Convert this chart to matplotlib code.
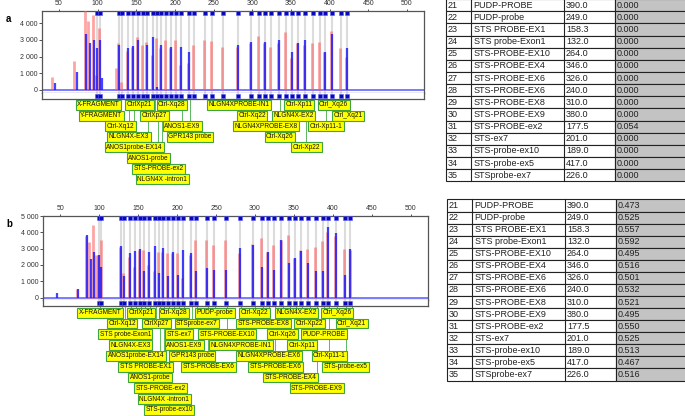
import matplotlib
matplotlib.use('Agg')
import matplotlib.pyplot as plt
from matplotlib.transforms import blended_transform_factory
from matplotlib.patches import Rectangle
from matplotlib.ticker import FuncFormatter

plt.rcParams['font.family'] = ['Liberation Sans', 'DejaVu Sans']

# ---------------- data ----------------
probe_names = ["X-FRAGMENT", "Y-FRAGMENT", "Ctrl-Xq12", "STS probe-Exon1", "NLGN4X-EX3",
               "ANOS1probe-EX14", "CtrlXp21", "STS PROBE-EX1", "ANOS1-probe", "CtrlXp27",
               "STS-PROBE-ex2", "NLGN4X -intron1", "STS-probe-ex10", "Ctrl-Xq28", "STS-ex7",
               "ANOS1-EX9", "GPR143 probe", "STSprobe-ex7", "STS-PROBE-EX6a", "PUDP-probe",
               "STS-PROBE-EX10", "NLGN4XPROBE-IN1", "Ctrl-Xq22", "STS-PROBE-EX8", "NLGN4XPROBE-EX6",
               "STS-PROBE-EX6b", "Ctrl-Xq26", "STS-PROBE-EX4", "NLGN4X-EX2", "Ctrl-Xp11",
               "Ctrl-Xp22", "STS-PROBE-EX9", "PUDP-PROBE", "Ctrl-Xp11-1", "Ctrl_Xq26",
               "STS-probe-ex5", "Ctrl_Xq21"]
probe_size = [99.5, 103, 128, 132, 139, 146, 152.5, 158, 164, 172, 177, 182, 188.5, 194.5, 201,
              208, 218, 224, 238.5, 247.5, 262.5, 281, 298, 309, 316.5, 324.5, 334, 344, 351.5,
              358.5, 368.5, 378, 387.5, 394, 403.5, 415, 422.5]

red_a = [900, 3700, 2800, 500, 2350, 2600, 3150, 2700, 2850, 2100, 3100, 2500, 3000, 2500, 3000,
         1500, 1600, 2700, 3000, 2950, 2600, 2600, 2800, 3250, 2800, 2600, 2800, 3450, 1900, 2800,
         2700, 2800, 2900, 2300, 3550, 2500, 2000]
blue_a = [2500, 3000, 2700, 0, 2500, 2650, 3000, 0, 2700, 3150, 150, 2700, 0, 2600, 0,
          2600, 2300, 0, 0, 0, 0, 2700, 2900, 0, 2900, 0, 3000, 0, 2300, 2800,
          3000, 0, 0, 2300, 3350, 0, 2500]
red_b = [2600, 3500, 3100, 1500, 2500, 1900, 2900, 2900, 2000, 1600, 2800, 2800, 2750, 2750, 2750,
         1200, 2600, 3500, 3500, 3200, 3500, 2700, 3300, 3650, 2800, 3250, 3550, 3850, 2400, 2900,
         2950, 3100, 3450, 4000, 3800, 3000, 2900]
blue_b = [2600, 1900, 3150, 1300, 2700, 2850, 3000, 1600, 2800, 3150, 1500, 3050, 1300, 2800, 1400,
          2900, 2750, 1600, 1800, 1700, 1700, 3050, 3250, 1900, 2800, 1700, 3500, 2100, 2400, 2850,
          2100, 1600, 1600, 4300, 3950, 1400, 3000]

# non-probe fragments (QD fragments etc.)
extra_red_a_pos = [41.5, 69.5, 83.5, 88, 93.5, 124]
extra_red_a_h = [760, 1760, 4800, 4150, 4500, 1300]
extra_blue_a_pos = [45, 73, 84.5, 89.5, 95, 105]
extra_blue_a_h = [400, 1100, 3350, 2800, 3000, 700]
extra_red_b_pos = [72, 83.5, 87.5, 92, 96]
extra_red_b_h = [500, 3800, 3400, 4450, 2600]
extra_blue_b_pos = [46, 73, 85, 89, 94]
extra_blue_b_h = [300, 500, 3850, 2350, 2800]

# label annotations: (text, probe, row)
labels_a_text = ["X-FRAGMENT", "CtrlXp21", "Ctrl-Xq28", "NLGN4XPROBE-IN1", "Ctrl-Xp11", "Ctrl_Xq26",
                 "Y-FRAGMENT", "CtrlXp27", "Ctrl-Xq22", "NLGN4X-EX2", "Ctrl_Xq21",
                 "Ctrl-Xq12", "ANOS1-EX9", "NLGN4XPROBE-EX8", "Ctrl-Xp11-1",
                 "NLGN4X-EX3", "GPR143 probe", "Ctrl-Xq26",
                 "ANOS1probe-EX14", "Ctrl-Xp22", "ANOS1-probe", "STS-PROBE-ex2", "NLGN4X -intron1"]
labels_a_probe = ["X-FRAGMENT", "CtrlXp21", "Ctrl-Xq28", "NLGN4XPROBE-IN1", "Ctrl-Xp11", "Ctrl_Xq26",
                  "Y-FRAGMENT", "CtrlXp27", "Ctrl-Xq22", "NLGN4X-EX2", "Ctrl_Xq21",
                  "Ctrl-Xq12", "ANOS1-EX9", "NLGN4XPROBE-EX6", "Ctrl-Xp11-1",
                  "NLGN4X-EX3", "GPR143 probe", "Ctrl-Xq26",
                  "ANOS1probe-EX14", "Ctrl-Xp22", "ANOS1-probe", "STS-PROBE-ex2", "NLGN4X -intron1"]
labels_a_row = [0, 0, 0, 0, 0, 0, 1, 1, 1, 1, 1, 2, 2, 2, 2, 3, 3, 3, 4, 4, 5, 6, 7]

labels_b_text = ["X-FRAGMENT", "CtrlXp21", "Ctrl-Xq28", "PUDP-probe", "Ctrl-Xq22", "NLGN4X-EX2", "Ctrl_Xq26",
                 "Ctrl-Xq12", "CtrlXp27", "STSprobe-ex7", "STS-PROBE-EX8", "Ctrl-Xp22", "Ctrl_Xq21",
                 "STS probe-Exon1", "STS-ex7", "STS-PROBE-EX10", "Ctrl-Xq26", "PUDP-PROBE",
                 "NLGN4X-EX3", "ANOS1-EX9", "NLGN4XPROBE-IN1", "Ctrl-Xp11",
                 "ANOS1probe-EX14", "GPR143 probe", "NLGN4XPROBE-EX6", "Ctrl-Xp11-1",
                 "STS PROBE-EX1", "STS-PROBE-EX6", "STS-PROBE-EX6", "STS-probe-ex5",
                 "ANOS1-probe", "STS-PROBE-EX4", "STS-PROBE-ex2", "STS-PROBE-EX9",
                 "NLGN4X -intron1", "STS-probe-ex10"]
labels_b_probe = ["X-FRAGMENT", "CtrlXp21", "Ctrl-Xq28", "PUDP-probe", "Ctrl-Xq22", "NLGN4X-EX2", "Ctrl_Xq26",
                  "Ctrl-Xq12", "CtrlXp27", "STSprobe-ex7", "STS-PROBE-EX8", "Ctrl-Xp22", "Ctrl_Xq21",
                  "STS probe-Exon1", "STS-ex7", "STS-PROBE-EX10", "Ctrl-Xq26", "PUDP-PROBE",
                  "NLGN4X-EX3", "ANOS1-EX9", "NLGN4XPROBE-IN1", "Ctrl-Xp11",
                  "ANOS1probe-EX14", "GPR143 probe", "NLGN4XPROBE-EX6", "Ctrl-Xp11-1",
                  "STS PROBE-EX1", "STS-PROBE-EX6a", "STS-PROBE-EX6b", "STS-probe-ex5",
                  "ANOS1-probe", "STS-PROBE-EX4", "STS-PROBE-ex2", "STS-PROBE-EX9",
                  "NLGN4X -intron1", "STS-probe-ex10"]
labels_b_row = [0, 0, 0, 0, 0, 0, 0, 1, 1, 1, 1, 1, 1, 2, 2, 2, 2, 2, 3, 3, 3, 3,
                4, 4, 4, 4, 5, 5, 5, 5, 6, 6, 7, 7, 8, 9]

tbl_index = [21, 22, 23, 24, 25, 26, 27, 28, 29, 30, 31, 32, 33, 34, 35]
tbl_names = ["PUDP-PROBE", "PUDP-probe", "STS PROBE-EX1", "STS probe-Exon1", "STS-PROBE-EX10",
             "STS-PROBE-EX4", "STS-PROBE-EX6", "STS-PROBE-EX6", "STS-PROBE-EX8", "STS-PROBE-EX9",
             "STS-PROBE-ex2", "STS-ex7", "STS-probe-ex10", "STS-probe-ex5", "STSprobe-ex7"]
tbl_size = [390.0, 249.0, 158.3, 132.0, 264.0, 346.0, 326.0, 240.0, 310.0, 380.0, 177.5, 201.0,
            189.0, 417.0, 226.0]
ratio_a = [0.000, 0.000, 0.000, 0.000, 0.000, 0.000, 0.000, 0.000, 0.000, 0.000, 0.054, 0.000,
           0.000, 0.000, 0.000]
ratio_b = [0.473, 0.525, 0.557, 0.592, 0.495, 0.516, 0.501, 0.532, 0.521, 0.495, 0.550, 0.525,
           0.513, 0.467, 0.516]

x_ticks = [50, 100, 150, 200, 250, 300, 350, 400, 450, 500]

# ---------------- figure ----------------
W, H = 685, 416
fig = plt.figure(figsize=(W / 100, H / 100), dpi=100)
size_of = dict(zip(probe_names, probe_size))


def fx(px):
    return px / W


def fy(py):
    return 1 - py / H


def panel(left, right, top, base, bottom, strip_bottom, ymax, yticks, red, blue,
          ex_r_pos, ex_r_h, ex_b_pos, ex_b_h, lab_text, lab_probe, lab_row, row0, rowsp, letter):
    ax = fig.add_axes([fx(left), fy(bottom), fx(right) - fx(left), fy(top) - fy(bottom)])
    px_per = (base - top) / ymax
    ymin = -(bottom - base) / px_per
    ax.set_xlim(28, 522)
    ax.set_ylim(ymin, ymax)
    for s in ax.spines.values():
        s.set_color('#555555')
        s.set_linewidth(0.9)
    ax.xaxis.tick_top()
    ax.set_xticks(x_ticks)
    ax.tick_params(axis='x', labelsize=5, length=1.5, colors='#333333', pad=1.5, width=0.6)
    ax.set_yticks(yticks)
    ax.yaxis.set_major_formatter(FuncFormatter(lambda v, p: '{:,}'.format(int(v)).replace(',', ' ')))
    ax.tick_params(axis='y', labelsize=5, length=2, colors='#333333', pad=1.5, width=0.6)
    # bins
    ax.vlines(probe_size, ymin, ymax, color='#dcdcdc', lw=1.5, zorder=1)
    # baseline
    ax.axhline(0, color='#7a7aff', lw=1.4, zorder=2)
    # peaks
    ax.vlines(ex_r_pos, 0, ex_r_h, color='#ff5a5a', alpha=0.55, lw=2.0, zorder=3)
    ax.vlines([p - 1.2 for p in probe_size], 0, red, color='#ff5a5a', alpha=0.55, lw=2.0, zorder=3)
    ax.vlines(ex_b_pos, 0, ex_b_h, color='#1515ff', alpha=0.8, lw=1.6, zorder=4)
    ax.vlines(probe_size, 0, blue, color='#1515ff', alpha=0.8, lw=1.6, zorder=4)
    trb = blended_transform_factory(ax.transData, ax.transAxes)
    ax.plot(probe_size, [1 - 2.2 / (bottom - top)] * len(probe_size), 's', ms=2.4,
            color='#0a0ab4', mec='#5a5aff', mew=0.4, transform=trb, clip_on=False, zorder=5)
    # strip below
    sx = fig.add_axes([fx(left), fy(strip_bottom), fx(right) - fx(left), fy(bottom) - fy(strip_bottom)])
    sx.set_xlim(28, 522)
    sx.set_ylim(0, 1)
    sx.set_xticks([])
    sx.set_yticks([])
    for s in sx.spines.values():
        s.set_color('#555555')
        s.set_linewidth(0.9)
    sx.spines['top'].set_visible(False)
    sx.vlines(probe_size, 0, 1, color='#dcdcdc', lw=1.5)
    sx.plot(probe_size, [0.5] * len(probe_size), 's', ms=2.4, color='#0a0ab4', mec='#5a5aff', mew=0.4)
    # labels
    trf = blended_transform_factory(ax.transData, fig.transFigure)
    for t, pr, r in zip(lab_text, lab_probe, lab_row):
        x = size_of[pr] + 1.5
        yc = row0 + r * rowsp
        ax.plot([x, x], [fy(strip_bottom), fy(yc - 4)], color='#5cb85c', lw=0.7,
                transform=trf, clip_on=False, zorder=6)
    for t, pr, r in zip(lab_text, lab_probe, lab_row):
        x = size_of[pr] + 1.5
        yc = row0 + r * rowsp
        ax.text(x, fy(yc), t, transform=trf, ha='center', va='center', fontsize=4.7,
                color='#111111', clip_on=False, zorder=7,
                bbox=dict(boxstyle='square,pad=0.22', fc='#ffff00', ec='#3fa33f', lw=0.8))
    fig.text(fx(6), fy(top + 8), letter, fontsize=7, fontweight='bold', ha='left', va='center')
    return ax


panel(42, 424, 11, 90, 93, 99, 4730, [0, 1000, 2000, 3000, 4000], red_a, blue_a,
      extra_red_a_pos, extra_red_a_h, extra_blue_a_pos, extra_blue_a_h,
      labels_a_text, labels_a_probe, labels_a_row, 105, 10.6, 'a')
panel(43, 428, 216, 297.5, 300, 306, 5000, [0, 1000, 2000, 3000, 4000, 5000], red_b, blue_b,
      extra_red_b_pos, extra_red_b_h, extra_blue_b_pos, extra_blue_b_h,
      labels_b_text, labels_b_probe, labels_b_row, 312.7, 10.8, 'b')

# ---------------- tables ----------------
ov = fig.add_axes([0, 0, 1, 1], zorder=-1)
ov.set_xlim(0, W)
ov.set_ylim(H, 0)
ov.axis('off')


def table(first_center, rowh, cols, ratios):
    x0, x1, x2, x3 = cols
    for i, (idx, nm, sz, rt) in enumerate(zip(tbl_index, tbl_names, tbl_size, ratios)):
        yt = first_center + i * rowh - rowh / 2
        ov.add_patch(Rectangle((x0, yt), x3 - x0, rowh, fc='white', ec='#222222', lw=0.8))
        ov.add_patch(Rectangle((x3, yt), W + 5 - x3, rowh, fc='#c3c3c3', ec='#222222', lw=0.8))
        for xx in (x1, x2):
            ov.plot([xx, xx], [yt, yt + rowh], color='#222222', lw=0.8)
        yc = yt + rowh / 2
        ov.text(x0 + 2, yc, str(idx), fontsize=6.5, va='center', ha='left', color='#222222')
        ov.text(x1 + 3, yc, nm, fontsize=6.5, va='center', ha='left', color='#222222')
        ov.text(x2 + 2, yc, '{:.1f}'.format(sz), fontsize=6.5, va='center', ha='left', color='#222222')
        ov.text(x3 + 2, yc, '{:.3f}'.format(rt), fontsize=6.5, va='center', ha='left', color='#222222')


table(5.2, 12.14, (446, 470.7, 564, 615), ratio_a)
table(205.5, 12.07, (446.7, 471.7, 565, 616), ratio_b)

fig.savefig('out.png', dpi=100)
